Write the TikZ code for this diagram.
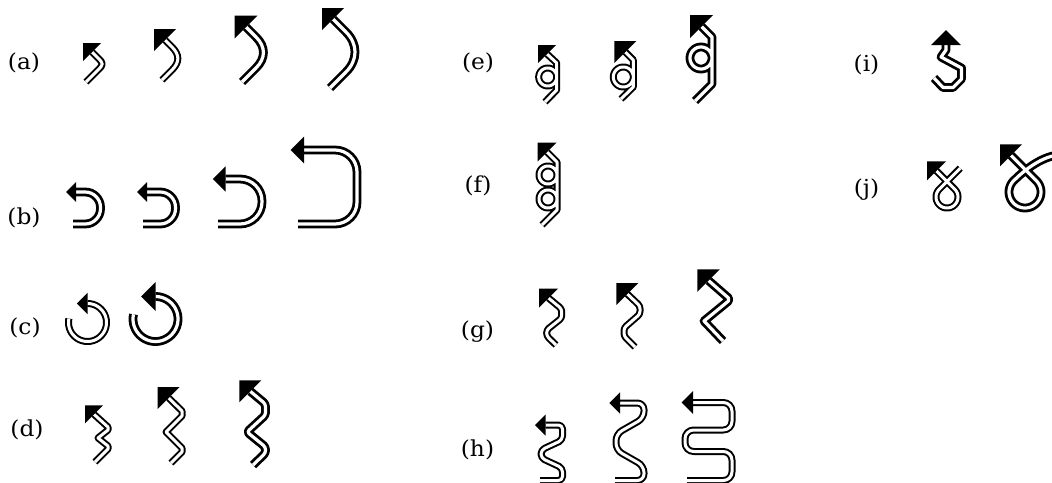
\documentclass[tikz,border=0pt]{standalone}
\usepackage{fontspec}
\usepackage{graphicx}
\newfontfamily\labfont{DejaVu Serif}
% arrowhead: #1 base point, #2 pointing angle, #3 side of the right-angled head
\newcommand\ahd[3]{\fill[black] #1 ++({#2}:{#3*0.7071}) -- +({#2+135}:#3) -- +({#2-135}:#3) -- cycle;}
\newcommand\lbl[1]{\scalebox{1.06}[1]{#1}}
\begin{document}
\begin{tikzpicture}[x=0.75pt,y=-0.75pt,
  dl/.style={draw=black,double=white,line width=1.5pt,double distance=2.25pt,line join=round},
  dlb/.style={draw=black,double=white,line width=2.1pt,double distance=2.4pt,line join=round},
  lab/.style={font=\labfont\fontsize{16.5}{19}\selectfont,inner sep=0pt}]
\useasboundingbox (0,0) rectangle (1052,482);
\clip (0,0) rectangle (1052,482);

% labels
\node[lab] (la) at (24,62.5) {\lbl{(a)}};
\node[lab] (lb) at (24,217.5) {\lbl{(b)}};
\node[lab] (lc) at (25,327.5) {\lbl{(c)}};
\node[lab] (ld) at (27,430) {\lbl{(d)}};
\node[lab] (le) at (478,63) {\lbl{(e)}};
\node[lab] (lf) at (478,186) {\lbl{(f)}};
\node[lab] (lg) at (477.5,332) {\lbl{(g)}};
\node[lab] (lh) at (477.5,450) {\lbl{(h)}};
\node[lab] (li) at (866.5,65) {\lbl{(i)}};
\node[lab] (lj) at (866.5,190) {\lbl{(j)}};

% (a)
\draw[dl] (86,82) -- (98,70) .. controls +(-45:8) and +(45:8) .. (98,58) -- (92,52);
\ahd{(92,52)}{-135}{18}
\draw[dl] (162,80) -- (172,70) .. controls +(-45:11) and +(45:11) .. (172,47) -- (165,40);
\ahd{(165,40)}{-135}{22}
\draw[dlb] (242,82) -- (256,68) .. controls +(-45:14) and +(45:14) .. (256,37) -- (246,27);
\ahd{(246,27)}{-135}{23}
\draw[dlb] (330,88) -- (346,72) .. controls +(-45:17) and +(45:17) .. (346,32) -- (333,19);
\ahd{(333,19)}{-135}{22}

% (b)
\draw[dlb,rounded corners=11.5pt] (76,192) -- (100.5,192) -- (100.5,224) -- (73,224);
\ahd{(76,192)}{180}{14}
\draw[dlb,rounded corners=11.5pt] (147,192) -- (175.5,192) -- (175.5,224) -- (143,224);
\ahd{(147,192)}{180}{14}
\draw[dlb,rounded corners=16.5pt] (225.5,179) -- (262,179) -- (262,224) -- (218,224);
\ahd{(225.5,179)}{180}{18}
\draw[dlb,rounded corners=16.5pt] (304,150) -- (357,150) -- (357,224) -- (298,224);
\ahd{(304,150)}{180}{19}

% (c)
\draw[dl] plot[domain=0:282,samples=60,variable=\t] ({87.5+19*cos(192-\t)},{322.5+19*sin(192-\t)});
\ahd{(87.5,303.5)}{180}{15}
\draw[dlb] plot[domain=0:282,samples=60,variable=\t] ({155.5+22.5*cos(192-\t)},{319+22.5*sin(192-\t)});
\ahd{(155.5,296.5)}{180}{20.5}

% (d)
\draw[dl] (94,414.3) -- (108,427) -- (108,430) -- (98,438) -- (108,446) -- (108,449) -- (95,462);
\ahd{(94,414.3)}{-135}{18}
\draw[dl] (168.7,398) -- (182,411) -- (182,416) -- (166,432) -- (182,448) -- (182,452) -- (171,463);
\ahd{(168.7,398)}{-135}{22}
\draw[dlb,rounded corners=2pt] (250.3,391.3) -- (265.5,404) -- (265.5,415) -- (247,432) -- (265.5,447) -- (265.5,453) -- (253,465);
\ahd{(250.3,391.3)}{-135}{22}

% (e)
\draw[dl] (545,102) -- (556.7,90) -- plot[domain=0:360,samples=50,variable=\t] ({547.7+9*cos(-\t)},{77+9*sin(-\t)}) -- (556.7,63) -- (547,54);
\ahd{(547,54)}{-135}{18}
\draw[dl] (621,99) -- (633.3,87) -- plot[domain=0:360,samples=50,variable=\t] ({623.3+10*cos(-\t)},{77+10*sin(-\t)}) -- (633.3,60) -- (625.3,52);
\ahd{(625.3,52)}{-135}{22}
\draw[dlb] (695,101) -- (712,84) -- plot[domain=0:360,samples=50,variable=\t] ({701+11*cos(-\t)},{58+11*sin(-\t)}) -- (712,37) -- (701.5,26.5);
\ahd{(701.5,26.5)}{-135}{23}

% (f)
\draw[dl] (542,225) -- (557,210) -- plot[domain=0:360,samples=50,variable=\t] ({548+9*cos(-\t)},{199+9*sin(-\t)}) -- plot[domain=0:360,samples=50,variable=\t] ({548+9*cos(-\t)},{175+9*sin(-\t)}) -- (557,162) -- (547,152);
\ahd{(547,152)}{-135}{19}

% (g)
\draw[dl,rounded corners=2pt] (548.5,298) -- (561.7,309) -- (561.7,318) -- (546.7,330) -- (546.7,336) -- (556,345);
\ahd{(548.5,298)}{-135}{19}
\draw[dl,rounded corners=2pt] (627.3,294) -- (640,306) -- (640,314) -- (624,328) -- (624,336) -- (635,347);
\ahd{(627.3,294)}{-135}{22}
\draw[dlb] (708.6,280.6) -- (728.5,298) -- (728.5,301) -- (704,321) -- (723,341);
\ahd{(708.6,280.6)}{-135}{22.7}

% (h)
\draw[dl,rounded corners=3pt] (545.6,425) -- (562.5,425) -- (562.5,440) -- (541,450) -- (541,458) -- (562.5,468) -- (562.5,480.5) -- (540,480.5);
\ahd{(545.6,425)}{180}{15}
\draw[dl,rounded corners=5pt] (620,403) -- (644,403) -- (644,418) -- (616,434) -- (616,450) -- (644,466) -- (644,480.5) -- (615,480.5);
\ahd{(620,403)}{180}{15}
\draw[dl,rounded corners=6.5pt] (693,402.5) -- (732,402.5) -- (732,430) -- (685,430) -- (685,451.5) -- (732,451.5) -- (732,480.5) -- (687,480.5);
\ahd{(693,402.5)}{180}{16}

% (i)
\draw[dlb] (934,78) -- (943,87.5) -- (953,87.5) -- (961.5,79) -- (961.5,68) -- (941,57) -- (946,50) -- (946,45);
\ahd{(946,45)}{-90}{21}

% (j)
\draw[dl] (960.2,168.2) -- plot[domain=0:270,samples=50,variable=\t] ({947+11*cos(-135-\t)},{197+11*sin(-135-\t)}) -- (936.5,170.9);
\ahd{(936.5,170.9)}{-135}{19}
\draw[dlb] (1058,155) .. controls (1040,157) and (1022.2,172.2) .. (1013.7,180.7) -- plot[domain=0:270,samples=50,variable=\t] ({1025+16*cos(-135-\t)},{192+16*sin(-135-\t)}) -- (1011,155.4);
\ahd{(1011,155.4)}{-135}{22}
\end{tikzpicture}
\end{document}
